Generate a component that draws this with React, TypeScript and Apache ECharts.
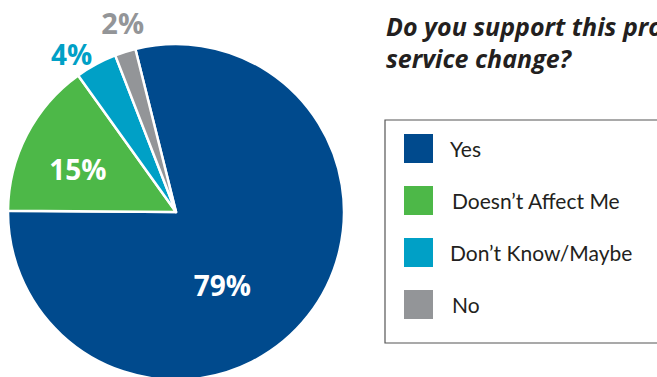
import React, { useEffect, useRef } from "react";
import * as echarts from "echarts";

const categories = ["Yes", "Doesn’t Affect Me", "Don’t Know/Maybe", "No"];
const values = [79, 15, 4, 2];
const colors = ["#004a8d", "#4db848", "#00a0c6", "#939598"];
const labelColors = ["#ffffff", "#ffffff", "#00a0c6", "#939598"];
const labelSizes = [28, 28, 28, 29];
const labelShift = [
  [-22, 19],
  [-21, -3],
  [-63, -81],
  [-27, -107],
];
const legendTextShift = [11, 13, 11, 13];
const titleText = "Do you support this proposed\nservice change?";

export default function App() {
  const ref = useRef<HTMLDivElement>(null);
  useEffect(() => {
    if (!ref.current) return;
    const chart = echarts.init(ref.current, undefined, { renderer: "svg" });
    chart.setOption({
      animation: false,
      backgroundColor: "#ffffff",
      title: {
        text: titleText,
        left: 386,
        top: 10,
        padding: 0,
        textStyle: {
          fontFamily: "Open Sans",
          fontSize: 25,
          fontWeight: "bold",
          fontStyle: "italic",
          color: "#231f20",
          lineHeight: 32,
        },
      },
      legend: {
        orient: "vertical",
        left: 385,
        top: 120,
        padding: [12, 70, 22, 17],
        borderColor: "#555555",
        borderWidth: 1.2,
        borderRadius: 0,
        itemWidth: 31,
        itemHeight: 31,
        itemGap: 19,
        icon: "rect",
        selectedMode: false,
        data: categories.map((c, i) => ({
          name: c,
          textStyle: { padding: [0, 0, 0, legendTextShift[i]] },
        })),
        textStyle: {
          fontFamily: "Lato",
          fontSize: 21,
          lineHeight: 24,
          color: "#231f20",
        },
      },
      series: [
        {
          type: "pie",
          center: [176, 212],
          radius: 168,
          startAngle: 104,
          clockwise: true,
          label: {
            show: true,
            position: "inside",
            formatter: "{c}%",
            fontFamily: "Open Sans",
            fontWeight: "bold",
          },
          labelLine: { show: false },
          labelLayout: (p: any) => ({
            dx: labelShift[p.dataIndex][0],
            dy: labelShift[p.dataIndex][1],
          }),
          itemStyle: { borderColor: "#ffffff", borderWidth: 2.5 },
          emphasis: { disabled: true },
          data: categories.map((c, i) => ({
            name: c,
            value: values[i],
            itemStyle: { color: colors[i] },
            label: { color: labelColors[i], fontSize: labelSizes[i] },
          })),
        },
      ],
    });
    return () => chart.dispose();
  }, []);
  return (
    <div
      ref={ref}
      style={{ position: "absolute", left: 0, top: 0, width: 657, height: 377 }}
    />
  );
}
